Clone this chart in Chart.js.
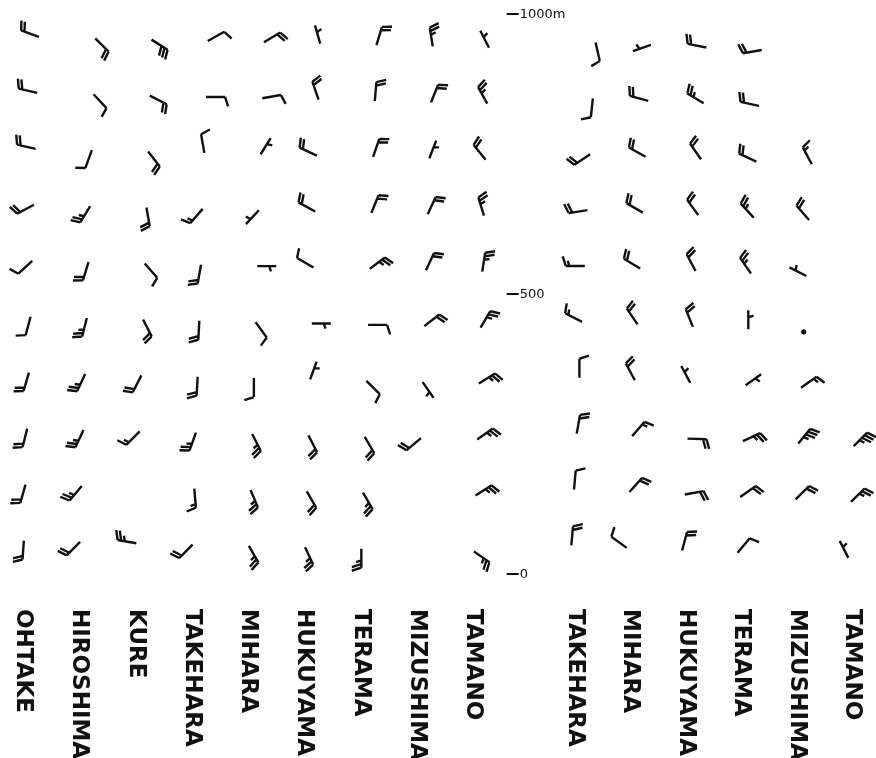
<!DOCTYPE html>
<html>
<head>
<meta charset="utf-8">
<script src="https://cdn.jsdelivr.net/npm/chart.js@4.4.1/dist/chart.umd.min.js"></script>
<style>
html, body { margin: 0; padding: 0; background: #fff; }
canvas { display: block; }
</style>
</head>
<body>
<canvas id="windChart" width="876" height="758"></canvas>
<script>
const leftStations = ['OHTAKE', 'HIROSHIMA', 'KURE', 'TAKEHARA', 'MIHARA', 'HUKUYAMA', 'TERAMA', 'MIZUSHIMA', 'TAMANO'];
const rightStations = ['TAKEHARA', 'MIHARA', 'HUKUYAMA', 'TERAMA', 'MIZUSHIMA', 'TAMANO'];

// observation levels (m), top row first
const heights = [950, 850, 750, 650, 550, 450, 350, 250, 150, 50];

const heightTicks = [1000, 500, 0];
const heightTickLabels = ['1000m', '500', '0'];

// direction the staff points (deg, 0 = up), speed: 10 = full barb, 5 = half barb, 0 = calm
const leftDir = [
    [290, 135, 122, 61, 59, 344, 17, 351, 333],
    [283, 137, 117, 90, 80, 341, 5, 22, 331],
    [283, 200, 142, 350, 32, 295, 19, 21, 321],
    [242, 211, 170, 221, 223, 299, 22, 25, 343],
    [227, 197, 139, 190, 90, 300, 53, 25, 9],
    [195, 194, 153, 183, 144, 90, 90, 52, 31],
    [196, 205, 207, 183, 180, 20, 135, 145, 58],
    [194, 205, 225, 200, 153, 153, 150, 230, 55],
    [196, 220, null, 175, 157, 150, 150, null, 58],
    [184, 225, 280, 225, 150, 155, 180, null, 125]
];
const leftSpeed = [
    [20, 20, 30, 10, 20, 5, 20, 25, 5],
    [20, 10, 20, 10, 10, 20, 20, 20, 25],
    [20, 10, 20, 10, 5, 20, 20, 5, 20],
    [20, 25, 20, 15, 5, 20, 20, 20, 25],
    [10, 20, 10, 20, 5, 10, 25, 20, 25],
    [10, 25, 20, 20, 10, 5, 10, 20, 25],
    [20, 25, 20, 20, 10, 5, 10, 5, 25],
    [20, 25, 15, 25, 25, 20, 20, 20, 25],
    [20, 25, null, 15, 25, 20, 25, null, 25],
    [20, 20, 25, 20, 25, 25, 25, null, 25]
];

const rightDir = [
    [167, 251, 281, 260, null, null],
    [186, 285, 301, 282, null, null],
    [236, 299, 325, 295, 332, null],
    [261, 300, 324, 317, 319, null],
    [270, 301, 332, 325, 297, null],
    [297, 326, 338, 0, 0, null],
    [0, 332, 332, 55, 55, null],
    [10, 41, 92, 65, 39, 45],
    [5, 42, 80, 55, 45, 45],
    [5, 306, 15, 40, null, 333]
];
const rightSpeed = [
    [10, 5, 20, 20, null, null],
    [10, 20, 25, 20, null, null],
    [20, 20, 20, 20, 15, null],
    [20, 20, 20, 25, 20, null],
    [15, 20, 20, 25, 5, null],
    [15, 20, 20, 5, 0, null],
    [10, 20, 5, 5, 15, null],
    [20, 15, 20, 25, 35, 35],
    [10, 20, 20, 20, 20, 25],
    [20, 10, 20, 10, null, 5]
];

function toPoints(dirs, speeds) {
    const pts = [];
    heights.forEach((h, r) => {
        dirs[r].forEach((d, c) => {
            if (d === null) return;
            pts.push({x: c, y: h, dir: d, spd: speeds[r][c]});
        });
    });
    return pts;
}

// the scanned panels are slightly slanted
const panelStyle = {
    left: {kx: 0.03, ky: 0.024, xc: 250, scale: 'x', labelShift: 0},
    right: {kx: 0.048, ky: 0.045, xc: 585, scale: 'x2', labelShift: 5}
};

function drawBarb(ctx, x, y, dir, spd) {
    if (spd === 0) {
        ctx.beginPath();
        ctx.arc(x, y, 2.6, 0, Math.PI * 2);
        ctx.fill();
        return;
    }
    const a = dir * Math.PI / 180;
    const b = (dir + 72) * Math.PI / 180;
    const ux = Math.sin(a), uy = -Math.cos(a);
    const vx = Math.sin(b), vy = -Math.cos(b);
    const L = 19, full = 10, half = 5.5, gap = 3.6;
    const ex = x + ux * L, ey = y + uy * L;

    ctx.beginPath();
    ctx.moveTo(x, y);
    ctx.lineTo(ex, ey);
    const nFull = Math.floor(spd / 10);
    for (let k = 0; k < nFull; k++) {
        const sx = ex - ux * gap * k, sy = ey - uy * gap * k;
        ctx.moveTo(sx, sy);
        ctx.lineTo(sx + vx * full, sy + vy * full);
    }
    if (spd % 10 >= 5) {
        const off = nFull === 0 ? 7 : gap * nFull;
        const sx = ex - ux * off, sy = ey - uy * off;
        ctx.moveTo(sx, sy);
        ctx.lineTo(sx + vx * half, sy + vy * half);
    }
    ctx.stroke();
}

const barbPlugin = {
    id: 'barbs',
    afterDatasetsDraw(chart) {
        const ctx = chart.ctx;
        const yScale = chart.scales.y;
        const ground = yScale.getPixelForValue(0);

        ctx.save();
        ctx.strokeStyle = '#111';
        ctx.fillStyle = '#111';
        ctx.lineWidth = 2.4;
        ctx.lineCap = 'butt';
        ctx.lineJoin = 'round';

        chart.data.datasets.forEach((ds, i) => {
            const st = panelStyle[ds.panel];
            chart.getDatasetMeta(i).data.forEach((el, j) => {
                const p = ds.data[j];
                const x = el.x + st.kx * (ground - el.y);
                const y = el.y + st.ky * (x - st.xc);
                drawBarb(ctx, x, y, p.dir, p.spd);
            });
        });

        // height marks between the panels
        const tx = chart.scales.x.getPixelForValue(8.6);
        ctx.lineWidth = 2;
        ctx.font = '13px "DejaVu Sans"';
        ctx.textAlign = 'left';
        ctx.textBaseline = 'middle';
        heightTicks.forEach((v, k) => {
            const ty = yScale.getPixelForValue(v);
            ctx.beginPath();
            ctx.moveTo(tx, ty);
            ctx.lineTo(tx + 12, ty);
            ctx.stroke();
            ctx.fillText(heightTickLabels[k], tx + 13, ty + 1);
        });

        // station names, written downwards
        ctx.font = 'bold 23px "DejaVu Sans"';
        [['left', leftStations], ['right', rightStations]].forEach(([panel, names]) => {
            const st = panelStyle[panel];
            const sc = chart.scales[st.scale];
            names.forEach((name, k) => {
                ctx.save();
                ctx.translate(sc.getPixelForValue(k) + st.labelShift, 609);
                ctx.rotate(Math.PI / 2);
                ctx.fillText(name, 0, 0);
                ctx.restore();
            });
        });
        ctx.restore();
    }
};

new Chart(document.getElementById('windChart'), {
    type: 'scatter',
    data: {
        datasets: [
            {panel: 'left', data: toPoints(leftDir, leftSpeed), xAxisID: 'x', yAxisID: 'y', pointRadius: 0, pointHoverRadius: 0},
            {panel: 'right', data: toPoints(rightDir, rightSpeed), xAxisID: 'x2', yAxisID: 'y', pointRadius: 0, pointHoverRadius: 0}
        ]
    },
    options: {
        responsive: false,
        animation: false,
        devicePixelRatio: 1,
        events: [],
        layout: {padding: 0},
        plugins: {
            legend: {display: false},
            tooltip: {enabled: false}
        },
        scales: {
            x: {type: 'linear', axis: 'x', display: false, min: -0.4089, max: 15.1644},
            x2: {type: 'linear', axis: 'x', display: false, min: -10.2888, max: 5.5235},
            y: {type: 'linear', display: false, min: -328.6, max: 1025}
        }
    },
    plugins: [barbPlugin]
});
</script>
</body>
</html>
